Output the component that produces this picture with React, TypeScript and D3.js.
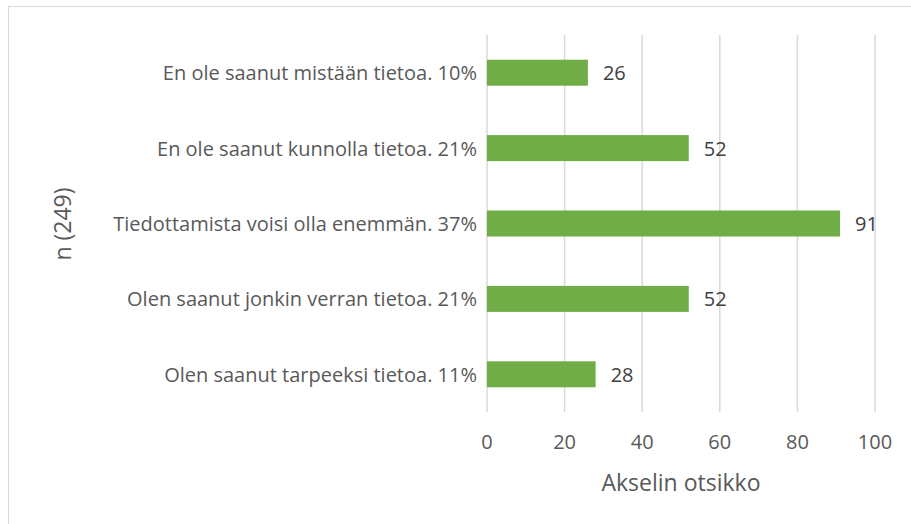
import React, { useRef, useEffect } from "react";
import * as d3 from "d3";

const categories = [
  "En ole saanut mistään tietoa. 10%",
  "En ole saanut kunnolla tietoa. 21%",
  "Tiedottamista voisi olla enemmän. 37%",
  "Olen saanut jonkin verran tietoa. 21%",
  "Olen saanut tarpeeksi tietoa. 11%",
];
const values = [26, 52, 91, 52, 28];
const ticks = [0, 20, 40, 60, 80, 100];
const xTitle = "Akselin otsikko";
const yTitle = "n (249)";

export default function App() {
  const ref = useRef<SVGSVGElement>(null);

  useEffect(() => {
    const svg = d3.select(ref.current);
    svg.selectAll("*").remove();

    const font = "Open Sans, sans-serif";
    const textColor = "#595959";

    // chart border
    svg.append("rect")
      .attr("x", 8.5)
      .attr("y", 6.5)
      .attr("width", 1000)
      .attr("height", 1000)
      .attr("fill", "none")
      .attr("stroke", "#d9d9d9");

    const x = d3.scaleLinear().domain([0, 100]).range([487, 875]);
    const y = d3.scaleBand()
      .domain(categories)
      .range([35, 412])
      .paddingInner(0.655)
      .paddingOuter(0.3275);

    // gridlines
    svg.selectAll("line.grid")
      .data(ticks)
      .enter()
      .append("line")
      .attr("x1", d => x(d))
      .attr("x2", d => x(d))
      .attr("y1", 35)
      .attr("y2", 412)
      .attr("stroke", "#d9d9d9")
      .attr("stroke-width", 1.5);

    // bars
    svg.selectAll("rect.bar")
      .data(values)
      .enter()
      .append("rect")
      .attr("x", x(0))
      .attr("y", (d, i) => y(categories[i])!)
      .attr("width", d => x(d) - x(0))
      .attr("height", y.bandwidth())
      .attr("fill", "#70ad47");

    // value labels
    svg.selectAll("text.value")
      .data(values)
      .enter()
      .append("text")
      .attr("x", d => x(d) + 15)
      .attr("y", (d, i) => y(categories[i])! + y.bandwidth() / 2)
      .attr("dominant-baseline", "central")
      .style("font-family", font)
      .style("font-size", "20px")
      .attr("fill", "#404040")
      .text(d => d);

    // category labels
    svg.selectAll("text.cat")
      .data(categories)
      .enter()
      .append("text")
      .attr("x", 477)
      .attr("y", d => y(d)! + y.bandwidth() / 2)
      .attr("text-anchor", "end")
      .attr("dominant-baseline", "central")
      .style("font-family", font)
      .style("font-size", "20px")
      .attr("fill", textColor)
      .text(d => d);

    // tick labels
    svg.selectAll("text.tick")
      .data(ticks)
      .enter()
      .append("text")
      .attr("x", d => x(d))
      .attr("y", 441)
      .attr("text-anchor", "middle")
      .attr("dominant-baseline", "central")
      .style("font-family", font)
      .style("font-size", "20px")
      .attr("fill", textColor)
      .text(d => d);

    // axis titles
    svg.append("text")
      .attr("x", (x(0) + x(100)) / 2)
      .attr("y", 482)
      .attr("text-anchor", "middle")
      .attr("dominant-baseline", "central")
      .style("font-family", font)
      .style("font-size", "23px")
      .attr("fill", textColor)
      .text(xTitle);

    svg.append("text")
      .attr("transform", "translate(62,224) rotate(-90)")
      .attr("text-anchor", "middle")
      .attr("dominant-baseline", "central")
      .style("font-family", font)
      .style("font-size", "23px")
      .attr("fill", textColor)
      .text(yTitle);
  }, []);

  return (
    <svg
      ref={ref}
      width={911}
      height={524}
      style={{ position: "absolute", left: 0, top: 0, background: "#fff" }}
    />
  );
}
